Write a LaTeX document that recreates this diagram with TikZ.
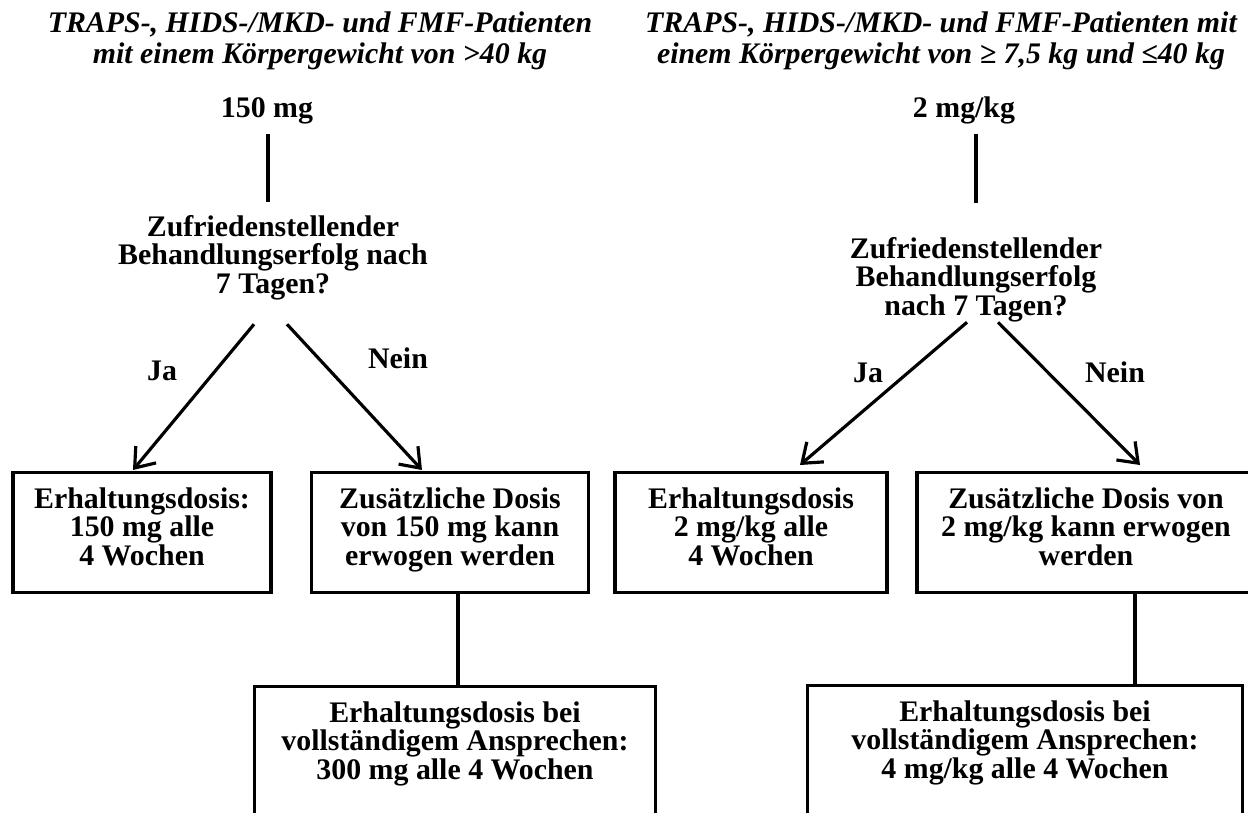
\documentclass[tikz,border=0pt]{standalone}
\usepackage{fontspec}
\setmainfont{Liberation Serif}
\usetikzlibrary{arrows.meta,calc}
\begin{document}
\begin{tikzpicture}[x=0.02cm,y=-0.02cm,
  every node/.style={font=\fontsize{17}{16.2}\selectfont\bfseries},
  txt/.style={inner sep=0pt,align=center},
  ttl/.style={txt,anchor=north,font=\fontsize{17}{17.6}\selectfont\bfseries\itshape},
  box/.style={draw,line width=1.8pt,anchor=north,align=center,inner xsep=4pt,inner ysep=0.3cm,text depth=0.24cm},
  line/.style={line width=1.8pt},
  arr/.style={line width=1.8pt,-{Straight Barb[length=10pt,width=15pt]}}]
 \useasboundingbox (0,0) rectangle (1248,812);
 \node[ttl] (t1) at (320,11) {TRAPS-, HIDS-/MKD- und FMF-Patienten\\mit einem Körpergewicht von >40 kg};
 \node[ttl] (t2) at (941,11) {TRAPS-, HIDS-/MKD- und FMF-Patienten mit\\einem Körpergewicht von ≥ 7,5 kg und ≤40 kg};
 \node[txt,anchor=base] (d1) at (267,117) {150 mg};
 \node[txt,anchor=base] (d2) at (964,117) {2 mg/kg};
 \node[txt,anchor=north] (q1) at (273,215) {Zufriedenstellender\\Behandlungserfolg nach\\7 Tagen?};
 \node[txt,anchor=north] (q2) at (976,237) {Zufriedenstellender\\Behandlungserfolg\\nach 7 Tagen?};
 \node[txt,anchor=base] (ja1) at (162,380) {Ja};
 \node[txt,anchor=base] (nein1) at (398,368) {Nein};
 \node[txt,anchor=base] (ja2) at (868,382) {Ja};
 \node[txt,anchor=base] (nein2) at (1115,382) {Nein};
 \node[box,minimum width=5.16cm] (l1) at (142,471) {Erhaltungsdosis:\\150 mg alle\\4 Wochen};
 \node[box,minimum width=5.54cm] (l2) at (450,471) {Zusätzliche Dosis\\von 150 mg kann\\erwogen werden};
 \node[box,minimum width=5.44cm] (r1) at (751,471) {Erhaltungsdosis\\2 mg/kg alle\\4 Wochen};
 \node[box,minimum width=6.76cm] (r2) at (1086,471) {Zusätzliche Dosis von\\2 mg/kg kann erwogen\\werden};
 \node[box,minimum width=8.02cm,text depth=1.2cm] (l3) at (455,685) {Erhaltungsdosis bei\\vollständigem Ansprechen:\\300 mg alle 4 Wochen};
 \node[box,minimum width=8.7cm,text depth=1.2cm] (r3) at (1025,684) {Erhaltungsdosis bei\\vollständigem Ansprechen:\\4 mg/kg alle 4 Wochen};
 \draw[line] ($(d1.south)+(1,10)$) -- ($(q1.north -| d1.south)+(1,-13)$);
 \draw[line] ($(q2.north |- d2.south)+(0,10)$) -- ($(q2.north)+(0,-34)$);
 \draw[arr] ($(q1.south)+(-19,24)$) -- ($(l1.north)+(-9,-1)$);
 \draw[arr] ($(q1.south)+(14,24)$) -- ($(l2.north)+(-28,-1)$);
 \draw[arr] ($(q2.south)+(-9,0)$) -- ($(r1.north)+(49,-6)$);
 \draw[arr] ($(q2.south)+(22,0)$) -- ($(r2.north)+(54,-6)$);
 \coordinate (c1) at ($(l2.south)+(8,0)$);
 \coordinate (c2) at ($(r2.south)+(49,0)$);
 \draw[line] (c1) -- (c1 |- l3.north);
 \draw[line] (c2) -- (c2 |- r3.north);
\end{tikzpicture}
\end{document}
